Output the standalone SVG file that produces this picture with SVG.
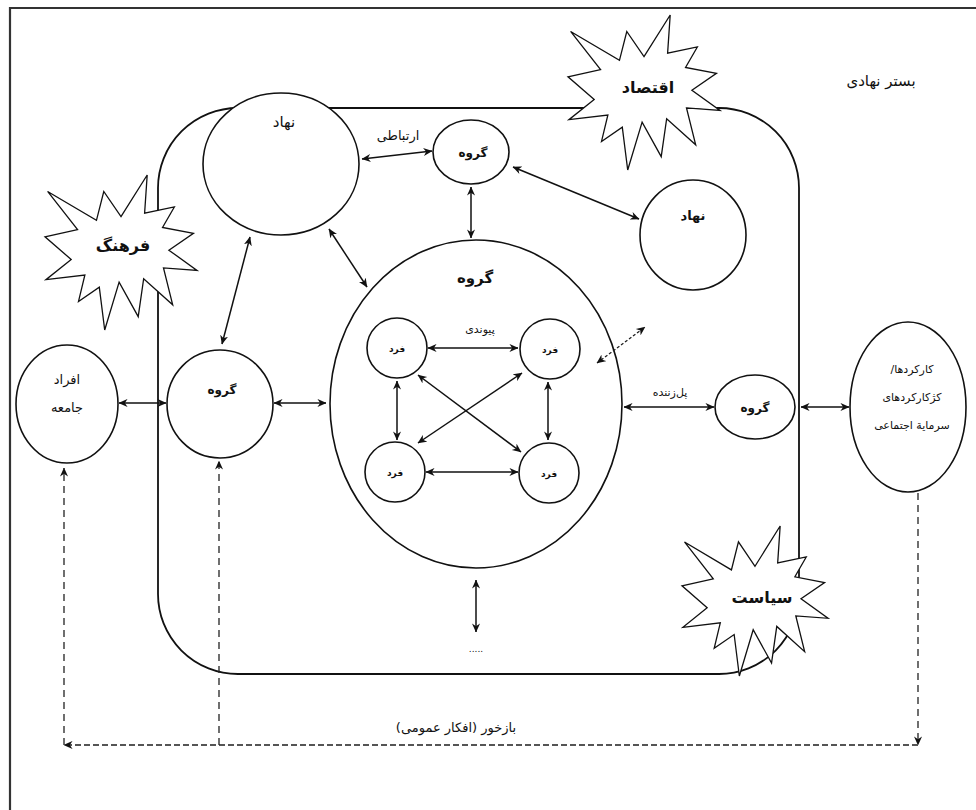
<svg xmlns="http://www.w3.org/2000/svg" width="976" height="810" viewBox="0 0 976 810">
<style>
.n{fill:#fff;stroke:#111;stroke-width:1.6}
.star{fill:#fff;stroke:#111;stroke-width:1.3;stroke-linejoin:miter}
.t{font-family:"DejaVu Sans","Noto Sans",sans-serif;fill:#111;text-anchor:middle;direction:rtl}
.b{font-weight:bold}
.c{fill:none;stroke:#111;stroke-width:1.5}
.d{fill:none;stroke:#222;stroke-width:1.3;stroke-dasharray:7 5}
.dh{fill:none;stroke:#555;stroke-width:2.2;stroke-dasharray:6 3}
</style>
<defs>
<marker id="ah" viewBox="0 0 10 10" refX="9.5" refY="5" markerWidth="9" markerHeight="9" markerUnits="userSpaceOnUse" orient="auto-start-reverse"><path d="M0,0.5 L10,5 L0,9.5 L3,5 z" fill="#111"/></marker>
<symbol id="seal" viewBox="0 0 21600 21600" preserveAspectRatio="none" overflow="visible"><polygon vector-effect="non-scaling-stroke" points="10800,5800 14522,0 14155,5325 18380,4457 16702,7315 21097,8137 17607,10475 21600,13290 16837,12942 18145,18095 14020,14457 13247,19737 10532,14935 8485,21600 7715,15627 4762,17617 5667,13937 135,14587 3722,11775 0,8615 4627,7617 370,2295 7312,6320 8352,2295"/></symbol>
</defs>
<rect x="0" y="0" width="976" height="810" fill="#fff"/>
<path d="M10,812 V8 H980" fill="none" stroke="#333" stroke-width="2.2"/>
<g id="bed">
<rect x="158" y="108" width="641" height="566" rx="80" ry="80" fill="none" stroke="#111" stroke-width="1.8"/>
<text class="t" x="881" y="86" font-size="15">بستر نهادی</text>
</g>
<g id="star-eqtesad">
<use href="#seal" x="568" y="15" width="152" height="155" class="star"/>
<text class="t b" x="648" y="93" font-size="16">اقتصاد</text>
</g>
<g id="star-farhang">
<use href="#seal" x="45" y="175" width="152" height="155" class="star"/>
<text class="t b" x="123" y="251" font-size="16">فرهنگ</text>
</g>
<g id="star-siasat">
<use href="#seal" x="682" y="526" width="146" height="150" class="star"/>
<text class="t b" x="762" y="603" font-size="16">سیاست</text>
</g>
<g id="nahad-big">
<ellipse class="n" cx="281" cy="164" rx="78" ry="71"/>
<text class="t" x="284" y="127" font-size="15">نهاد</text>
</g>
<g id="group-top">
<ellipse class="n" cx="471" cy="152" rx="38" ry="32"/>
<text class="t b" x="473" y="157" font-size="12">گروه</text>
</g>
<g id="nahad-right">
<ellipse class="n" cx="693" cy="235" rx="53" ry="55"/>
<text class="t b" x="693" y="220" font-size="13">نهاد</text>
</g>
<g id="group-big">
<ellipse class="n" cx="476" cy="404" rx="146" ry="164"/>
<text class="t b" x="475" y="283" font-size="15">گروه</text>
</g>
<g id="fard-tl"><circle class="n" cx="397" cy="348" r="30"/><text class="t b" x="397" y="352" font-size="9">فرد</text></g>
<g id="fard-tr"><circle class="n" cx="550" cy="349" r="30"/><text class="t b" x="550" y="353" font-size="9">فرد</text></g>
<g id="fard-bl"><circle class="n" cx="395" cy="472" r="30"/><text class="t b" x="395" y="476" font-size="9">فرد</text></g>
<g id="fard-br"><circle class="n" cx="549" cy="473" r="30"/><text class="t b" x="549" y="477" font-size="9">فرد</text></g>
<g id="group-left">
<ellipse class="n" cx="220" cy="404" rx="53" ry="54"/>
<text class="t b" x="222" y="394" font-size="12">گروه</text>
</g>
<g id="afrad">
<ellipse class="n" cx="67" cy="404" rx="51" ry="59"/>
<text class="t" x="67" y="384" font-size="13">افراد</text>
<text class="t" x="67" y="412" font-size="13">جامعه</text>
</g>
<g id="group-right">
<ellipse class="n" cx="755" cy="407" rx="40" ry="32"/>
<text class="t b" x="755" y="412" font-size="12">گروه</text>
</g>
<g id="functions">
<ellipse class="n" cx="908" cy="407" rx="58" ry="85"/>
<text class="t" x="912" y="373" font-size="11">کارکردها/</text>
<text class="t" x="912" y="401" font-size="11">کژکارکردهای</text>
<text class="t" x="912" y="429" font-size="11">سرمایة اجتماعی</text>
</g>
<g id="connectors">
<line class="c" x1="362" y1="159" x2="432" y2="151" marker-start="url(#ah)" marker-end="url(#ah)"/>
<line class="c" x1="513" y1="167" x2="639" y2="219" marker-start="url(#ah)" marker-end="url(#ah)"/>
<line class="c" x1="471" y1="187" x2="471" y2="238" marker-start="url(#ah)" marker-end="url(#ah)"/>
<line class="c" x1="329" y1="229" x2="367" y2="287" marker-start="url(#ah)" marker-end="url(#ah)"/>
<line class="c" x1="250" y1="237" x2="222" y2="344" marker-start="url(#ah)" marker-end="url(#ah)"/>
<line class="c" x1="274" y1="403" x2="326" y2="403" marker-start="url(#ah)" marker-end="url(#ah)"/>
<line class="c" x1="119" y1="403" x2="166" y2="403" marker-start="url(#ah)" marker-end="url(#ah)"/>
<line class="c" x1="624" y1="407" x2="714" y2="407" marker-start="url(#ah)" marker-end="url(#ah)"/>
<line class="c" x1="801" y1="407" x2="849" y2="407" marker-start="url(#ah)" marker-end="url(#ah)"/>
<line class="c" x1="428" y1="348" x2="518" y2="348" marker-start="url(#ah)" marker-end="url(#ah)"/>
<line class="c" x1="426" y1="472" x2="518" y2="472" marker-start="url(#ah)" marker-end="url(#ah)"/>
<line class="c" x1="397" y1="381" x2="397" y2="440" marker-start="url(#ah)" marker-end="url(#ah)"/>
<line class="c" x1="548" y1="382" x2="548" y2="440" marker-start="url(#ah)" marker-end="url(#ah)"/>
<line class="c" x1="418" y1="375" x2="521" y2="452" marker-start="url(#ah)" marker-end="url(#ah)"/>
<line class="c" x1="522" y1="373" x2="418" y2="443" marker-start="url(#ah)" marker-end="url(#ah)"/>
<line fill="none" stroke="#222" stroke-width="1.3" stroke-dasharray="3 2" x1="597" y1="363" x2="645" y2="327" marker-start="url(#ah)" marker-end="url(#ah)"/>
<line class="c" x1="476" y1="580" x2="476" y2="632" stroke-width="1.2" marker-start="url(#ah)" marker-end="url(#ah)"/>
<text class="t" x="476" y="652" font-size="9">.....</text>
<line class="d" x1="918" y1="493" x2="918" y2="745" marker-end="url(#ah)"/>
<line class="dh" x1="918" y1="745" x2="64" y2="745" marker-end="url(#ah)"/>
<line class="d" x1="64" y1="745" x2="64" y2="468" marker-end="url(#ah)"/>
<line class="d" x1="219" y1="745" x2="219" y2="461" marker-end="url(#ah)"/>
<text class="t" x="398" y="140" font-size="13">ارتباطی</text>
<text class="t" x="480" y="333" font-size="11">پیوندی</text>
<text class="t" x="670" y="396" font-size="11">پل‌زننده</text>
<text class="t" x="456" y="732" font-size="13">بازخور (افکار عمومی)</text>
</g>
</svg>
